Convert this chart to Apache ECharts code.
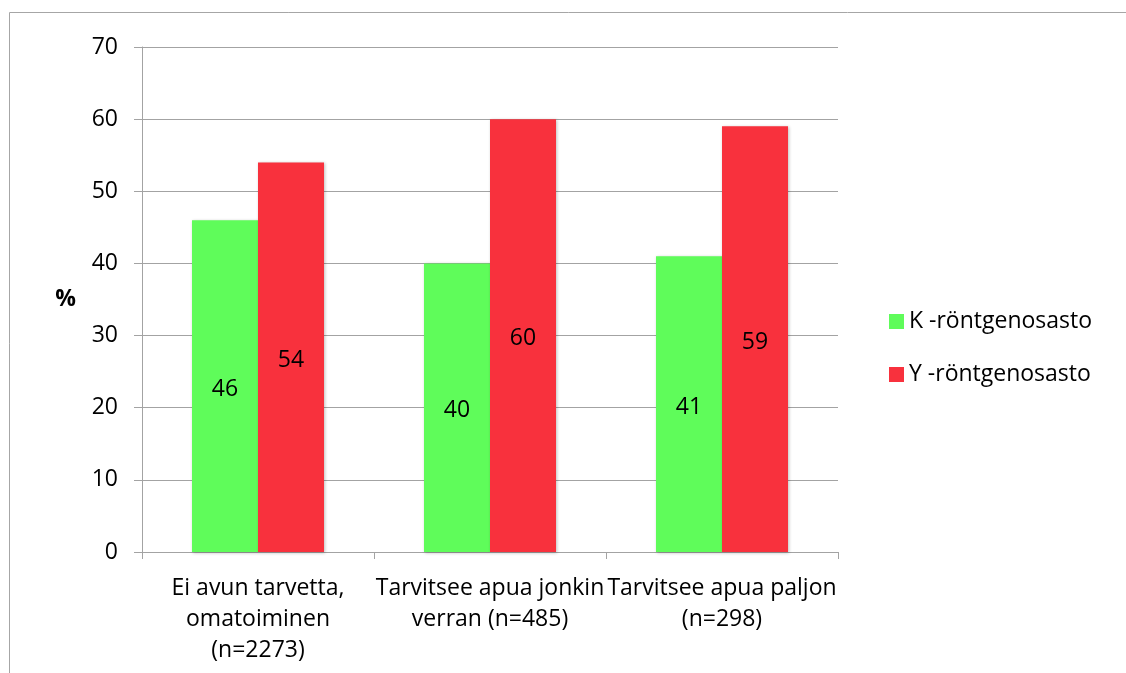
<!DOCTYPE html>
<html>
<head>
<meta charset="utf-8">
<title>Röntgenosastot</title>
<script src="https://cdn.jsdelivr.net/npm/echarts@6/dist/echarts.min.js"></script>
<style>
  html, body { margin: 0; padding: 0; background: #fff; }
  #chart { width: 1126px; height: 673px; }
</style>
</head>
<body>
<div id="chart"></div>
<script>
// Category labels (line breaks as shown under the axis)
const categories = [
  'Ei avun tarvetta,\nomatoiminen\n(n=2273)',
  'Tarvitsee apua jonkin\nverran (n=485)',
  'Tarvitsee apua paljon\n(n=298)'
];
const seriesNames = ['K -röntgenosasto', 'Y -röntgenosasto'];
const kValues = [46, 40, 41];
const yValues = [54, 60, 59];
const yTicks = { min: 0, max: 70, interval: 10 };

const FONT = '"Open Sans", "Noto Sans", sans-serif';
const FS = 23;
const GREEN = '#5ffc5a';
const RED = '#f8313d';
const GRIDC = '#a3a3a3';

const chart = echarts.init(document.getElementById('chart'));

function barSeries(name, data, color) {
  return {
    name: name,
    type: 'bar',
    data: data,
    barWidth: 66,
    barGap: '0%',
    itemStyle: {
      color: color,
      shadowColor: 'rgba(0,0,0,0.25)',
      shadowBlur: 3,
      shadowOffsetX: 1,
      shadowOffsetY: 1
    },
    label: {
      show: true,
      position: 'inside',
      offset: [0, 3],
      color: '#000',
      fontFamily: FONT,
      fontSize: FS
    }
  };
}

chart.setOption({
  animation: false,
  backgroundColor: '#fff',
  textStyle: { fontFamily: FONT },
  graphic: [{
    type: 'rect',
    shape: { x: 9.5, y: 12.5, width: 1300, height: 800 },
    style: { fill: 'none', stroke: '#a6a6a6', lineWidth: 1 },
    silent: true
  }],
  legend: {
    orient: 'vertical',
    left: 884,
    top: 305,
    itemWidth: 15,
    itemHeight: 15,
    itemGap: 30,
    icon: 'rect',
    textStyle: { fontFamily: FONT, fontSize: FS, lineHeight: 23, color: '#000' },
    data: seriesNames
  },
  grid: { left: 142, right: 288, top: 47, bottom: 121 },
  xAxis: {
    type: 'category',
    data: categories,
    axisLine: { lineStyle: { color: GRIDC, width: 1 } },
    axisTick: { show: true, length: 7, lineStyle: { color: GRIDC } },
    axisLabel: {
      interval: 0,
      color: '#000',
      fontFamily: FONT,
      fontSize: FS,
      lineHeight: 31,
      margin: 21
    }
  },
  yAxis: {
    type: 'value',
    min: yTicks.min,
    max: yTicks.max,
    interval: yTicks.interval,
    name: '%',
    nameLocation: 'middle',
    nameRotate: 0,
    nameGap: 66,
    nameTextStyle: {
      fontFamily: FONT, fontSize: FS, fontWeight: 'bold', color: '#000',
      padding: [7, 0, 0, 0]
    },
    axisLine: { show: true, lineStyle: { color: GRIDC, width: 1 } },
    axisTick: { show: true, length: 8, lineStyle: { color: GRIDC } },
    splitLine: { lineStyle: { color: GRIDC, width: 1 } },
    axisLabel: { color: '#000', fontFamily: FONT, fontSize: FS, margin: 24 }
  },
  series: [
    barSeries(seriesNames[0], kValues, GREEN),
    barSeries(seriesNames[1], yValues, RED)
  ]
});
</script>
</body>
</html>
